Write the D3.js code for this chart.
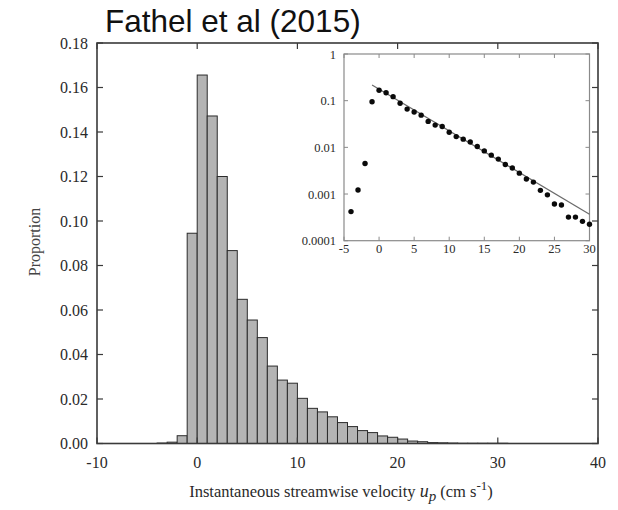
<!DOCTYPE html>
<html>
<head>
<meta charset="utf-8">
<script src="https://cdn.jsdelivr.net/npm/d3@7"></script>
<style>
  body { margin: 0; background: #fff; }
  svg { display: block; }
</style>
</head>
<body>
<svg id="chart" width="618" height="510"></svg>
<script>
const WIDTH = 618;
const HEIGHT = 510;

// histogram: left edge of each 1 cm/s bin and its proportion
const binStarts = [-4, -3, -2, -1, 0, 1, 2, 3, 4, 5, 6, 7, 8, 9, 10, 11, 12, 13, 14, 15,
    16, 17, 18, 19, 20, 21, 22, 23, 24, 25, 26, 27, 28, 29, 30];
const proportions = [0.0002, 0.0006, 0.0035, 0.0945, 0.1656, 0.1472, 0.1200, 0.0867, 0.0648, 0.0555,
    0.0476, 0.0348, 0.0285, 0.0271, 0.0203, 0.0158, 0.0142, 0.0120, 0.0094, 0.0076,
    0.0058, 0.0049, 0.0034, 0.0028, 0.0020, 0.0011, 0.0008, 0.0004, 0.0003, 0.0002,
    0.0001, 0.0001, 0.0001, 0.0001, 0.0001];

// inset (log scale) points
const insetX = [-4, -3, -2, -1, 0, 1, 2, 3, 4, 5, 6, 7, 8, 9, 10, 11, 12, 13, 14, 15,
    16, 17, 18, 19, 20, 21, 22, 23, 24, 25, 26, 27, 28, 29, 30];
const insetY = [0.00042, 0.00122, 0.0045, 0.095, 0.167, 0.148, 0.122, 0.088, 0.066, 0.057,
    0.049, 0.036, 0.030, 0.028, 0.021, 0.017, 0.015, 0.013, 0.0104, 0.0084,
    0.0068, 0.0056, 0.0043, 0.0036, 0.0028, 0.0021, 0.0018, 0.0012, 0.00096, 0.00061,
    0.00058, 0.00032, 0.00032, 0.00026, 0.000225];
// exponential fit line endpoints
const fitX = [-1, 30];
const fitY = [0.217, 0.00037];

const mainXTicks = [-10, 0, 10, 20, 30, 40];
const mainYTicks = [0, 0.02, 0.04, 0.06, 0.08, 0.10, 0.12, 0.14, 0.16, 0.18];
const insetXTicks = [-5, 0, 5, 10, 15, 20, 25, 30];
const insetYTicks = [0.0001, 0.001, 0.01, 0.1, 1];
const insetYLabels = ["0.0001", "0.001", "0.01", "0.1", "1"];

const svg = d3.select("#chart");

// --- main panel ---
const x = d3.scaleLinear().domain([-10, 40]).range([97, 598]);
const y = d3.scaleLinear().domain([0, 0.18]).range([443.5, 43]);

const frameColor = "#3a3a3a";
const textColor = "#2a2a2a";
const serif = "'Liberation Serif', 'DejaVu Serif', serif";

svg.append("text")
    .attr("x", 105)
    .attr("y", 32)
    .attr("font-family", "'Liberation Sans', Arial, sans-serif")
    .attr("font-size", "31.5px")
    .attr("fill", "#111")
    .text("Fathel et al (2015)");

const bars = svg.append("g");
bars.selectAll("rect")
    .data(binStarts.map((b, i) => ({ b, v: proportions[i] })))
    .join("rect")
    .attr("x", d => x(d.b))
    .attr("y", d => y(d.v))
    .attr("width", d => x(d.b + 1) - x(d.b))
    .attr("height", d => y(0) - y(d.v))
    .attr("fill", "#b4b4b4")
    .attr("stroke", "#2b2b2b")
    .attr("stroke-width", 1);

// inward ticks
const tickLen = 6;
const ticks = svg.append("g").attr("stroke", frameColor).attr("stroke-width", 1.2);
mainXTicks.forEach(t => {
    ticks.append("line").attr("x1", x(t)).attr("x2", x(t)).attr("y1", y(0)).attr("y2", y(0) - tickLen);
    ticks.append("line").attr("x1", x(t)).attr("x2", x(t)).attr("y1", y(0.18)).attr("y2", y(0.18) + tickLen);
});
mainYTicks.forEach(t => {
    ticks.append("line").attr("x1", x(-10)).attr("x2", x(-10) + tickLen).attr("y1", y(t)).attr("y2", y(t));
    ticks.append("line").attr("x1", x(40)).attr("x2", x(40) - tickLen).attr("y1", y(t)).attr("y2", y(t));
});

svg.append("rect")
    .attr("x", x(-10))
    .attr("y", y(0.18))
    .attr("width", x(40) - x(-10))
    .attr("height", y(0) - y(0.18))
    .attr("fill", "none")
    .attr("stroke", frameColor)
    .attr("stroke-width", 1.6);

svg.append("g")
    .selectAll("text")
    .data(mainXTicks)
    .join("text")
    .attr("x", d => x(d))
    .attr("y", 468)
    .attr("text-anchor", "middle")
    .attr("font-family", serif)
    .attr("font-size", "16px")
    .attr("fill", textColor)
    .text(d => d);

svg.append("g")
    .selectAll("text")
    .data(mainYTicks)
    .join("text")
    .attr("x", 88)
    .attr("y", d => y(d) + 5.5)
    .attr("text-anchor", "end")
    .attr("font-family", serif)
    .attr("font-size", "16px")
    .attr("fill", textColor)
    .text(d => d3.format(".2f")(d));

svg.append("text")
    .attr("transform", "translate(40,242) rotate(-90)")
    .attr("text-anchor", "middle")
    .attr("font-family", serif)
    .attr("font-size", "16px")
    .attr("fill", "#444")
    .text("Proportion");

const xTitle = svg.append("text")
    .attr("x", 341)
    .attr("y", 497)
    .attr("text-anchor", "middle")
    .attr("font-family", serif)
    .attr("font-size", "16.5px")
    .attr("fill", textColor);
xTitle.append("tspan").text("Instantaneous streamwise velocity ");
xTitle.append("tspan").attr("font-style", "italic").attr("font-size", "18px").text("u");
xTitle.append("tspan").attr("font-style", "italic").attr("font-size", "15px").attr("dy", 4).text("p");
xTitle.append("tspan").attr("dy", -4).text(" (cm s");
xTitle.append("tspan").attr("font-size", "13px").attr("dy", -7).text("-1");
xTitle.append("tspan").attr("dy", 7).text(")");

// --- inset panel ---
const ix = d3.scaleLinear().domain([-5, 30]).range([344, 589.5]);
const iy = d3.scaleLog().domain([0.0001, 1]).range([240.7, 54]);
const insetFrame = "#8a8a8a";

svg.append("rect")
    .attr("x", ix(-5))
    .attr("y", iy(1))
    .attr("width", ix(30) - ix(-5))
    .attr("height", iy(0.0001) - iy(1))
    .attr("fill", "#fff")
    .attr("stroke", insetFrame)
    .attr("stroke-width", 1.2);

const iticks = svg.append("g").attr("stroke", insetFrame).attr("stroke-width", 1);
insetXTicks.forEach(t => {
    iticks.append("line").attr("x1", ix(t)).attr("x2", ix(t)).attr("y1", iy(1)).attr("y2", iy(1) + 4);
    iticks.append("line").attr("x1", ix(t)).attr("x2", ix(t)).attr("y1", iy(0.0001)).attr("y2", iy(0.0001) - 4);
});
insetYTicks.forEach(t => {
    iticks.append("line").attr("x1", ix(-5)).attr("x2", ix(-5) + 4).attr("y1", iy(t)).attr("y2", iy(t));
    iticks.append("line").attr("x1", ix(30)).attr("x2", ix(30) - 4).attr("y1", iy(t)).attr("y2", iy(t));
});

svg.append("path")
    .datum(fitX.map((v, i) => [v, fitY[i]]))
    .attr("d", d3.line().x(d => ix(d[0])).y(d => iy(d[1])))
    .attr("fill", "none")
    .attr("stroke", "#6a6a6a")
    .attr("stroke-width", 1.2);

svg.append("g")
    .selectAll("circle")
    .data(insetX.map((v, i) => [v, insetY[i]]))
    .join("circle")
    .attr("cx", d => ix(d[0]))
    .attr("cy", d => iy(d[1]))
    .attr("r", 2.7)
    .attr("fill", "#0a0a0a");

svg.append("g")
    .selectAll("text")
    .data(insetXTicks)
    .join("text")
    .attr("x", d => ix(d))
    .attr("y", 253)
    .attr("text-anchor", "middle")
    .attr("font-family", serif)
    .attr("font-size", "12.5px")
    .attr("fill", textColor)
    .text(d => d);

svg.append("g")
    .selectAll("text")
    .data(insetYTicks)
    .join("text")
    .attr("x", 336)
    .attr("y", d => iy(d) + 4.5)
    .attr("text-anchor", "end")
    .attr("font-family", serif)
    .attr("font-size", "12.5px")
    .attr("fill", textColor)
    .text((d, i) => insetYLabels[i]);
</script>
</body>
</html>
